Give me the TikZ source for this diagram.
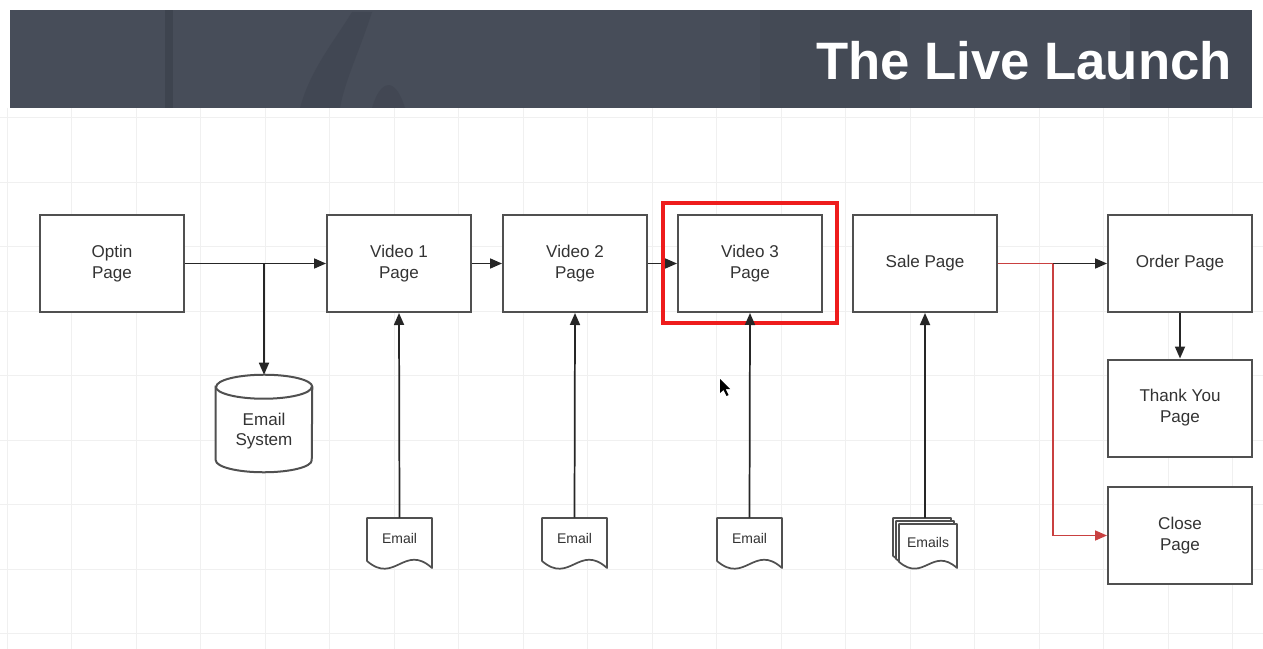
\documentclass[tikz,border=0pt]{standalone}
\usepackage{fontspec}
\setmainfont{Liberation Sans}
\usetikzlibrary{arrows.meta,calc}

\definecolor{band}{HTML}{474D59}
\definecolor{bandshade}{HTML}{2C313B}
\definecolor{boxline}{HTML}{505050}
\definecolor{ink}{HTML}{333333}
\definecolor{hl}{HTML}{EE1C1C}
\definecolor{flowred}{HTML}{C94040}
\definecolor{gridline}{HTML}{F0F0F0}

\tikzset{
  box/.style={draw=boxline, line width=1.5pt, fill=white, minimum width=108pt,
    minimum height=72.75pt, align=center, text=ink,
    font=\fontsize{12.8}{15.75}\selectfont},
  anchorbox/.style={inner sep=0pt, minimum width=#1},
  label text/.style={align=center, text=ink, inner sep=0pt,
    font=\fontsize{12.8}{15}\selectfont},
  doc text/.style={text=ink, inner sep=0pt, font=\fontsize{10.5}{12}\selectfont},
  docline/.style={draw=boxline, line width=1.3pt, fill=white, line join=round},
  conn/.style={draw=black!85, line width=1.3pt,
    -{Triangle[length=9pt,width=7.5pt]}},
  redconn/.style={draw=flowred, line width=1.2pt,
    -{Triangle[length=9pt,width=7.5pt]}},
}

% document shape with a wavy bottom: centre, half width, half height
\newcommand\docpath[3]{%
  \draw[docline, shift={(#1)}]
    ({-#2},{-#3}) -- ({#2},{-#3}) -- ({#2},{#3})
    .. controls ({0.15*#2},0) and ({-0.15*#2},{1.68*#3}) .. ({-#2},{0.72*#3})
    -- cycle;}

\begin{document}
\begin{tikzpicture}[x=0.75pt, y=-0.75pt]
  % canvas
  \useasboundingbox (0,0) rectangle (1263,649);
  \fill[white] (0,0) rectangle (1263,649);

  % faint background grid
  \foreach \gx in {7,71.5,...,1263}
    \draw[gridline, line width=0.6pt] (\gx,108) -- (\gx,649);
  \foreach \gy in {117.5,182,...,649}
    \draw[gridline, line width=0.6pt] (0,\gy) -- (1263,\gy);

  % title band with a soft photographic backdrop
  \fill[band] (10,10) rectangle (1252,108);
  \fill[bandshade, opacity=0.3] (165,10) rectangle (173,108);
  \fill[bandshade, opacity=0.2] (300,108) .. controls (310,70) and (335,40) .. (352,12)
    -- (372,12) .. controls (360,50) and (345,80) .. (340,108) -- cycle;
  \fill[bandshade, opacity=0.18] (372,108) .. controls (380,80) and (395,75) .. (405,108) -- cycle;
  \fill[bandshade, opacity=0.15] (1130,10) rectangle (1252,108);
  \fill[bandshade, opacity=0.1] (760,10) rectangle (900,108);
  \node[anchor=base east, text=white, inner sep=0pt,
        font=\fontsize{39.5}{46}\selectfont\bfseries] (title) at (1232,80) {The Live Launch};

  % page boxes
  \node[box] (optin) at (112,263.5) {Optin\\Page};
  \node[box] (v1)    at (399,263.5) {Video 1\\Page};
  \node[box] (v2)    at (575,263.5) {Video 2\\Page};
  \node[box] (v3)    at (750,263.5) {Video 3\\Page};
  \node[box] (sale)  at (925,263.5) {Sale Page};
  \node[box] (order) at (1180,263.5) {Order Page};
  \node[box] (ty)    at (1180,408) {Thank You\\Page};
  \node[box] (close) at (1180,535.5) {Close\\Page};

  % email system database
  \node[anchorbox=72pt, minimum height=72.75pt] (db) at (264,423.5) {};
  \draw[draw=boxline, line width=1.5pt, fill=white]
    ($(db.north west)+(0,12)$) -- ($(db.south west)+(0,-12)$)
    arc[start angle=180, end angle=0, x radius=48, y radius=12]
    -- ($(db.north east)+(0,12)$)
    arc[start angle=0, end angle=-180, x radius=48, y radius=12] -- cycle;
  \draw[draw=boxline, line width=1.5pt]
    ($(db.north west)+(0,12)$) arc[start angle=180, end angle=0, x radius=48, y radius=12];
  \node[label text] (dbt) at (264,431) {Email\\System};

  % email documents
  \node[anchorbox=48.75pt, minimum height=37.5pt] (e1) at (399.5,543) {};
  \node[anchorbox=48.75pt, minimum height=37.5pt] (e2) at (574.5,543) {};
  \node[anchorbox=48.75pt, minimum height=37.5pt] (e3) at (749.5,543) {};
  \docpath{e1}{32.5}{25}
  \docpath{e2}{32.5}{25}
  \docpath{e3}{32.5}{25}
  \node[doc text] (e1t) at (399.5,538) {Email};
  \node[doc text] (e2t) at (574.5,538) {Email};
  \node[doc text] (e3t) at (749.5,538) {Email};

  % stacked email documents
  \node[anchorbox=48pt, minimum height=37.5pt] (s) at (925,543) {};
  \docpath{$(s)+(-3,-3)$}{29}{22}
  \docpath{$(s)+(0,0)$}{29}{22}
  \docpath{$(s)+(3,3)$}{29}{22}
  \node[doc text] (st) at (928,542) {Emails};

  % flow connectors
  \coordinate (split1) at (optin.east -| db.north);
  \draw[conn] (optin.east) -- (v1.west);
  \draw[conn] (split1) -- (db.north);
  \draw[conn] (v1.east) -- (v2.west);
  \draw[conn] (v2.east) -- (v3.west);
  \draw[conn] (e1.north) -- (v1.south);
  \draw[conn] (e2.north) -- (v2.south);
  \draw[conn] (s.north) -- (sale.south);
  \draw[conn] (order.south) -- (ty.north);

  \coordinate (split2) at (1053,263.5);
  \draw[flowred, line width=1.2pt] (sale.east) -- (split2);
  \draw[conn] (split2) -- (order.west);
  \draw[redconn] (split2) |- (close.west);

  % highlight frame around the third video
  \draw[hl, line width=3.2pt]
    ($(v3.north west)+(-14,-11)$) rectangle ($(v3.south east)+(14,10)$);
  \draw[conn] (e3.north) -- (v3.south);

  % mouse pointer
  \fill[black] (720,379) -- (720,393) -- (723.5,390) -- (726.5,396)
    -- (728.5,395) -- (725.5,389) -- (730,389) -- cycle;
\end{tikzpicture}
\end{document}
